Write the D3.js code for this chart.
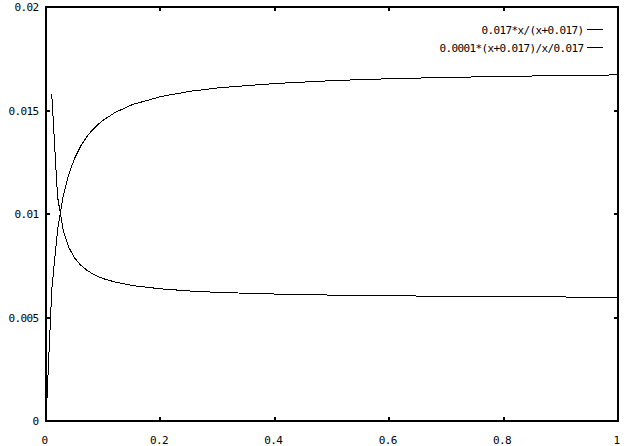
<!DOCTYPE html>
<html>
<head>
<meta charset="utf-8">
<script src="https://cdn.jsdelivr.net/npm/d3@7"></script>
<style>
  body { margin: 0; background: white; }
  text { font-family: "DejaVu Sans Mono", monospace; font-size: 11px; letter-spacing: -0.62px; fill: black; }
</style>
</head>
<body>
<script>
// values
const xs     = [0, 0.0101, 0.0202, 0.0303, 0.0404, 0.0505, 0.0606, 0.0707, 0.0808, 0.0909, 0.101, 0.1212, 0.1515, 0.202, 0.2525, 0.303, 0.404, 0.505, 0.606, 0.707, 0.808, 0.909, 1]
const rising = [0, 0.00634, 0.00923, 0.01089, 0.01197, 0.01272, 0.01328, 0.01371, 0.01405, 0.01432, 0.01455, 0.01491, 0.01529, 0.01568, 0.01593, 0.0161, 0.01631, 0.01645, 0.01654, 0.0166, 0.01665, 0.01669, 0.01672]
const falling = [null, 0.01578, 0.01083, 0.00918, 0.00836, 0.00786, 0.00753, 0.0073, 0.00712, 0.00698, 0.00687, 0.00671, 0.00654, 0.00638, 0.00628, 0.00621, 0.00613, 0.00608, 0.00605, 0.00602, 0.00601, 0.00599, 0.00598]
const seriesNames = ["0.017*x/(x+0.017)", "0.0001*(x+0.017)/x/0.017"]
const xTicks = [0, 0.2, 0.4, 0.6, 0.8, 1]
const xTickLabels = ["0", "0.2", "0.4", "0.6", "0.8", "1"]
const yTicks = [0, 0.005, 0.01, 0.015, 0.02]
const yTickLabels = ["0", "0.005", "0.01", "0.015", "0.02"]

const W = 632, H = 446
const pLeft = 46, pRight = 618, pTop = 7, pBottom = 421

const x = d3.scaleLinear().domain([0, 1]).range([pLeft, pRight])
const y = d3.scaleLinear().domain([0, 0.02]).range([pBottom, pTop])

const svg = d3.select("body").append("svg")
  .attr("width", W)
  .attr("height", H)
  .attr("shape-rendering", "crispEdges")

svg.append("rect").attr("width", W).attr("height", H).attr("fill", "white")

svg.append("defs").append("clipPath").attr("id", "clip")
  .append("rect")
  .attr("x", pLeft).attr("y", pTop)
  .attr("width", pRight - pLeft).attr("height", pBottom - pTop)

// ticks, inward and mirrored
const tk = 4
const px = v => Math.round(x(v))
const py = v => Math.round(y(v))
const ticks = svg.append("g").attr("stroke", "black").attr("stroke-width", 2)
xTicks.forEach(t => {
  ticks.append("line").attr("x1", px(t)).attr("x2", px(t)).attr("y1", pBottom).attr("y2", pBottom - tk)
  ticks.append("line").attr("x1", px(t)).attr("x2", px(t)).attr("y1", pTop).attr("y2", pTop + tk)
})
yTicks.forEach(t => {
  ticks.append("line").attr("x1", pLeft).attr("x2", pLeft + tk).attr("y1", py(t)).attr("y2", py(t))
  ticks.append("line").attr("x1", pRight).attr("x2", pRight - tk).attr("y1", py(t)).attr("y2", py(t))
})

svg.append("g").selectAll("text")
  .data(xTicks)
  .join("text")
  .attr("x", d => x(d) - 1.5)
  .attr("y", 444)
  .attr("text-anchor", "middle")
  .text((d, i) => xTickLabels[i])

svg.append("g").selectAll("text")
  .data(yTicks)
  .join("text")
  .attr("x", 38.5)
  .attr("y", d => y(d) + 4)
  .attr("text-anchor", "end")
  .text((d, i) => yTickLabels[i])

// curves (aliased, like the bitmap original)
const line = d3.line()
  .defined(d => d[1] != null)
  .x(d => x(d[0]))
  .y(d => y(d[1]))

const curves = svg.append("g").attr("clip-path", "url(#clip)")
;[rising, falling].forEach(vals => {
  curves.append("path")
    .attr("d", line(xs.map((v, i) => [v, vals[i]])))
    .attr("fill", "none")
    .attr("stroke", "black")
    .attr("stroke-width", 1)
})

// legend
seriesNames.forEach((name, i) => {
  const ly = 29.5 + i * 18
  svg.append("text")
    .attr("x", 583.5)
    .attr("y", 34 + i * 18)
    .attr("text-anchor", "end")
    .text(name)
  svg.append("line")
    .attr("x1", 587).attr("x2", 603)
    .attr("y1", ly).attr("y2", ly)
    .attr("stroke", "black")
    .attr("stroke-width", 1)
})

// border
svg.append("rect")
  .attr("x", pLeft).attr("y", pTop)
  .attr("width", pRight - pLeft).attr("height", pBottom - pTop)
  .attr("fill", "none")
  .attr("stroke", "black")
  .attr("stroke-width", 2)
</script>
</body>
</html>
